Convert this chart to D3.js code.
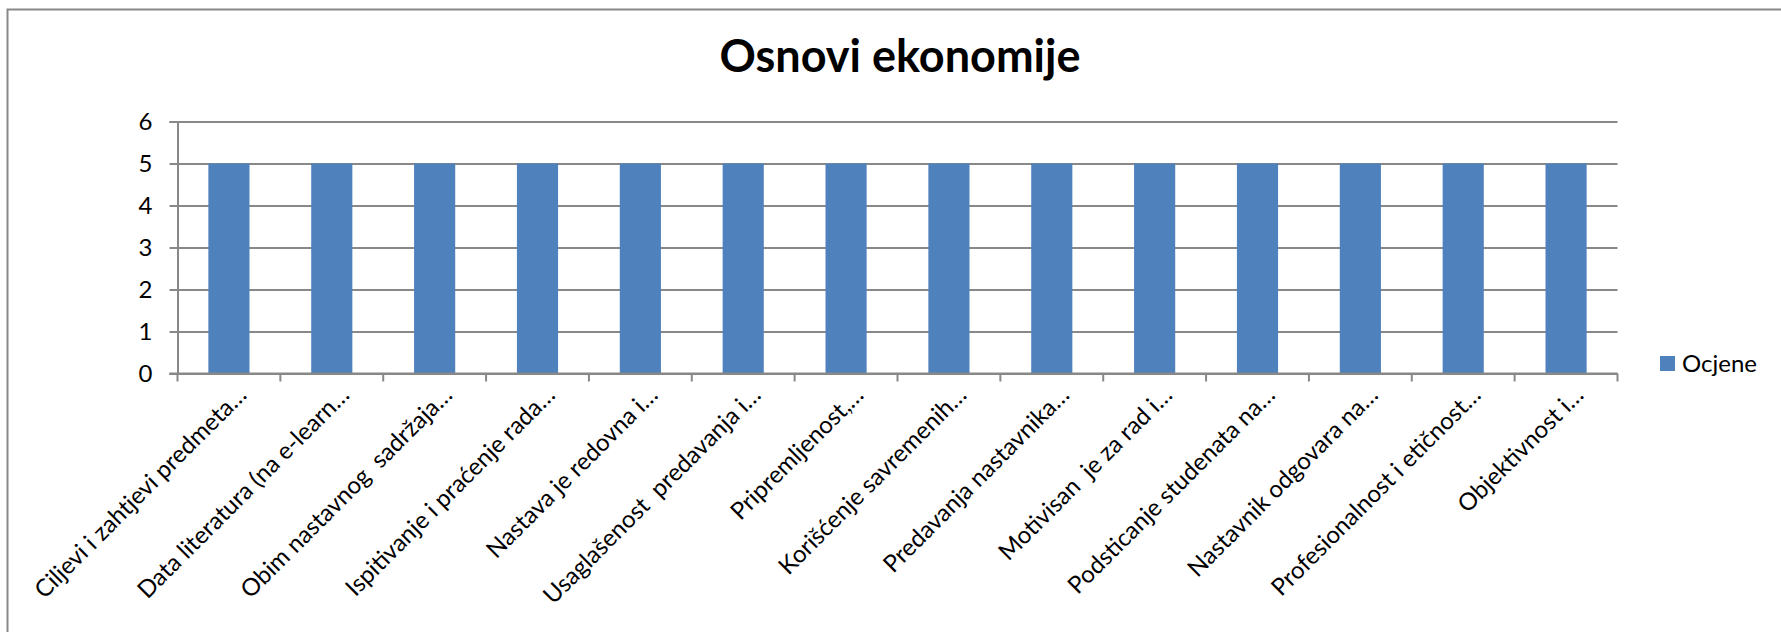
<!DOCTYPE html>
<html>
<head>
<meta charset="utf-8">
<script src="https://cdn.jsdelivr.net/npm/d3@7"></script>
<style>
  body { margin: 0; background: #fff; }
  svg { display: block; font-family: Lato, "Open Sans", sans-serif; }
</style>
</head>
<body>
<div class="graph-view"></div>
<script>
// chart data
const categories = [
  'Ciljevi i zahtjevi predmeta…',
  'Data literatura (na e-learn…',
  'Obim nastavnog  sadržaja…',
  'Ispitivanje i praćenje rada…',
  'Nastava je redovna i…',
  'Usaglašenost  predavanja i…',
  'Pripremljenost,…',
  'Korišćenje savremenih…',
  'Predavanja nastavnika…',
  'Motivisan  je za rad i…',
  'Podsticanje studenata na…',
  'Nastavnik odgovara na…',
  'Profesionalnost i etičnost…',
  'Objektivnost i…'
];
const ocjene = [5, 5, 5, 5, 5, 5, 5, 5, 5, 5, 5, 5, 5, 5];
const yTicks = [0, 1, 2, 3, 4, 5, 6];
const seriesName = 'Ocjene';
const chartTitle = 'Osnovi ekonomije';

const w = 1781, h = 632;
const plotLeft = 177.5, plotRight = 1617.5, plotTop = 121.5, plotBottom = 373.5;
const gray = '#888888';
const fontSize = 24;

const svg = d3.select('.graph-view').append('svg')
  .attr('width', w)
  .attr('height', h);

// outer frame (cut off at right and bottom)
svg.append('rect')
  .attr('x', 7.5).attr('y', 9.5)
  .attr('width', w + 20).attr('height', h + 20)
  .attr('fill', 'none')
  .attr('stroke', gray)
  .attr('stroke-width', 2);

// title
svg.append('text')
  .attr('x', 900).attr('y', 72)
  .attr('text-anchor', 'middle')
  .attr('font-size', 45)
  .attr('font-weight', 'bold')
  .text(chartTitle);

// scales
const x = d3.scaleBand()
  .domain(categories)
  .range([plotLeft, plotRight])
  .paddingInner(0.6)
  .paddingOuter(0.3);

const xCell = d3.scaleBand()
  .domain(categories)
  .range([plotLeft, plotRight]);

const y = d3.scaleLinear()
  .domain([0, 6])
  .range([plotBottom, plotTop]);

// gridlines
const grid = svg.append('g')
  .attr('transform', 'translate(' + plotLeft + ',0)')
  .call(d3.axisLeft(y).tickValues(yTicks).tickSize(-(plotRight - plotLeft)).tickFormat(''));
grid.select('.domain').remove();
grid.selectAll('line').attr('stroke', gray).attr('stroke-width', 2);

// y axis
const yAxis = svg.append('g')
  .attr('transform', 'translate(' + plotLeft + ',0)')
  .call(d3.axisLeft(y).tickValues(yTicks).tickFormat(d3.format('d')).tickSize(8).tickPadding(17));
yAxis.select('.domain').attr('stroke', gray).attr('stroke-width', 2);
yAxis.selectAll('line').attr('stroke', gray).attr('stroke-width', 2);
yAxis.selectAll('text')
  .attr('fill', '#000')
  .attr('font-size', fontSize)
  .attr('font-family', 'Lato, "Open Sans", sans-serif');

// bars
svg.selectAll('rect.bar')
  .data(ocjene)
  .enter()
  .append('rect')
    .attr('class', 'bar')
    .attr('x', (d, i) => x(categories[i]))
    .attr('y', d => y(d))
    .attr('width', x.bandwidth())
    .attr('height', d => y(0) - y(d))
    .attr('fill', '#4f81bd');

// x axis line and tick marks on category borders
const borders = categories.map(c => xCell(c)).concat([plotRight]);
svg.append('line')
  .attr('x1', plotLeft - 8).attr('x2', plotRight)
  .attr('y1', plotBottom).attr('y2', plotBottom)
  .attr('stroke', gray).attr('stroke-width', 2);
svg.selectAll('line.xtick')
  .data(borders)
  .enter()
  .append('line')
    .attr('class', 'xtick')
    .attr('x1', d => d).attr('x2', d => d)
    .attr('y1', plotBottom).attr('y2', plotBottom + 8)
    .attr('stroke', gray).attr('stroke-width', 2);

// rotated category labels
svg.selectAll('text.xlabel')
  .data(categories)
  .enter()
  .append('text')
    .attr('class', 'xlabel')
    .attr('transform', d => 'translate(' + (xCell(d) + xCell.bandwidth() / 2 + 19) + ',' + (plotBottom + 23) + ') rotate(-45)')
    .attr('text-anchor', 'end')
    .attr('font-size', fontSize)
    .style('white-space', 'pre')
    .text(d => d);

// legend
const legend = svg.append('g').attr('transform', 'translate(1660,356)');
legend.append('rect')
  .attr('width', 15).attr('height', 15)
  .attr('fill', '#4f81bd');
legend.append('text')
  .attr('x', 22).attr('y', 16)
  .attr('font-size', fontSize)
  .text(seriesName);
</script>
</body>
</html>
